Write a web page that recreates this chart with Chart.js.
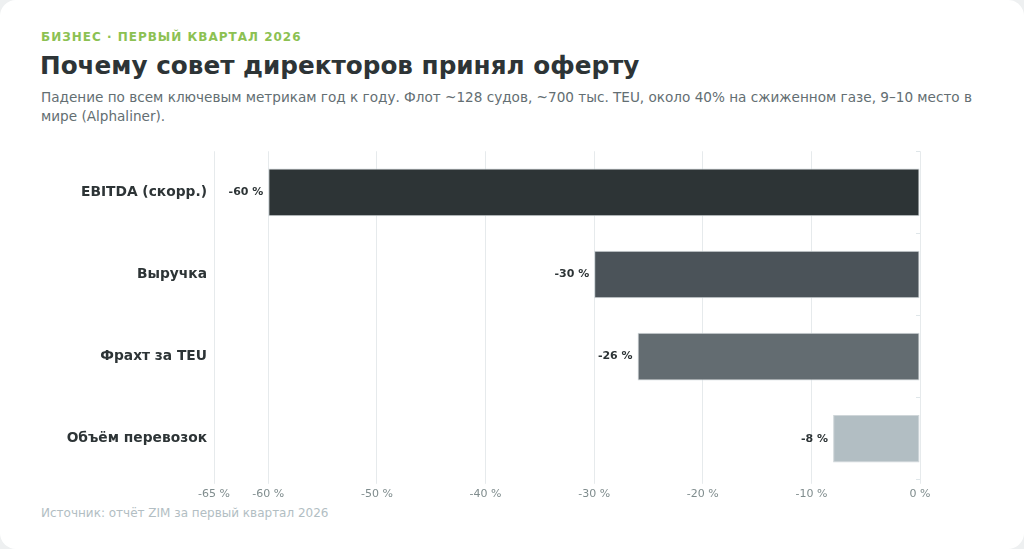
<!DOCTYPE html>
<html lang="ru">
<head>
<meta charset="utf-8">
<script src="https://cdn.jsdelivr.net/npm/chart.js@4/dist/chart.umd.min.js"></script>
<style>
    html, body { margin: 0; padding: 0; background: #eef0f1; }
    body { width: 1024px; height: 549px; overflow: hidden; font-family: "DejaVu Sans", sans-serif; }
    .card { position: absolute; left: 0; top: 0; width: 1024px; height: 549px; background: #fff; border-radius: 16px; }
    .eyebrow { position: absolute; left: 41px; top: 30px; font-size: 12px; font-weight: bold; letter-spacing: 1px; color: #8cc152; }
    h1 { position: absolute; left: 40px; top: 51px; margin: 0; font-size: 24.7px; font-weight: bold; color: #2d3436; }
    .sub { position: absolute; left: 41px; top: 88px; width: 962px; margin: 0; font-size: 13.6px; line-height: 19px; color: #636e72; }
    .chart { position: absolute; left: 40px; top: 136px; width: 944px; height: 369px; }
    .source { position: absolute; left: 41px; top: 506px; font-size: 12px; color: #b2bec3; }
</style>
</head>
<body>
<div class="card">
    <div class="eyebrow">БИЗНЕС · ПЕРВЫЙ КВАРТАЛ 2026</div>
    <h1>Почему совет директоров принял оферту</h1>
    <p class="sub">Падение по всем ключевым метрикам год к году. Флот ~128 судов, ~700 тыс. TEU, около 40% на сжиженном газе, 9–10 место в мире (Alphaliner).</p>
    <div class="chart"><canvas id="dropChart"></canvas></div>
    <div class="source">Источник: отчёт ZIM за первый квартал 2026</div>
</div>
<script>
// Data
const metrics = ["EBITDA (скорр.)", "Выручка", "Фрахт за TEU", "Объём перевозок"];
const change = [-60, -30, -26, -8];
const barColors = ["#2d3436", "#4b5359", "#636c71", "#b2bec3"];

// value labels left of each bar
const valueLabels = {
    id: "valueLabels",
    afterDatasetsDraw(chart) {
        const ctx = chart.ctx;
        const meta = chart.getDatasetMeta(0);
        ctx.save();
        ctx.font = "bold 11px 'DejaVu Sans'";
        ctx.fillStyle = "#2d3436";
        ctx.textAlign = "right";
        ctx.textBaseline = "middle";
        meta.data.forEach((bar, i) => {
            ctx.fillText(change[i] + " %", bar.x - 5, bar.y);
        });
        ctx.restore();
    }
};

new Chart(document.getElementById("dropChart"), {
    type: "bar",
    data: {
        labels: metrics,
        datasets: [{
            data: change,
            backgroundColor: barColors,
            borderColor: "#cfd6d9",
            borderWidth: 1,
            borderSkipped: false,
            categoryPercentage: 1,
            barPercentage: 0.58
        }]
    },
    options: {
        indexAxis: "y",
        responsive: true,
        maintainAspectRatio: false,
        animation: false,
        layout: { padding: { top: 7, right: 64, bottom: 0, left: 0 } },
        plugins: {
            legend: { display: false },
            tooltip: { enabled: false }
        },
        scales: {
            x: {
                min: -65,
                max: 0,
                ticks: {
                    stepSize: 10,
                    color: "#7f8c8d",
                    font: { family: "DejaVu Sans", size: 11 },
                    callback: v => v + " %",
                    padding: 4
                },
                grid: { color: "#e6eaec", tickLength: 4 },
                border: { display: false }
            },
            y: {
                afterFit: scale => { scale.width = 174; },
                ticks: {
                    color: "#2d3436",
                    font: { family: "DejaVu Sans", size: 13.8, weight: "bold" },
                    padding: 7
                },
                grid: { display: false, drawTicks: false },
                border: { display: false }
            },
            // small category marks along the zero line
            y2: {
                position: "right",
                offset: true,
                afterFit: scale => { scale.width = 0; },
                ticks: { display: false },
                grid: { drawOnChartArea: false, tickLength: -4, color: "#dfe6e9" },
                border: { display: false }
            }
        }
    },
    plugins: [valueLabels]
});
</script>
</body>
</html>
